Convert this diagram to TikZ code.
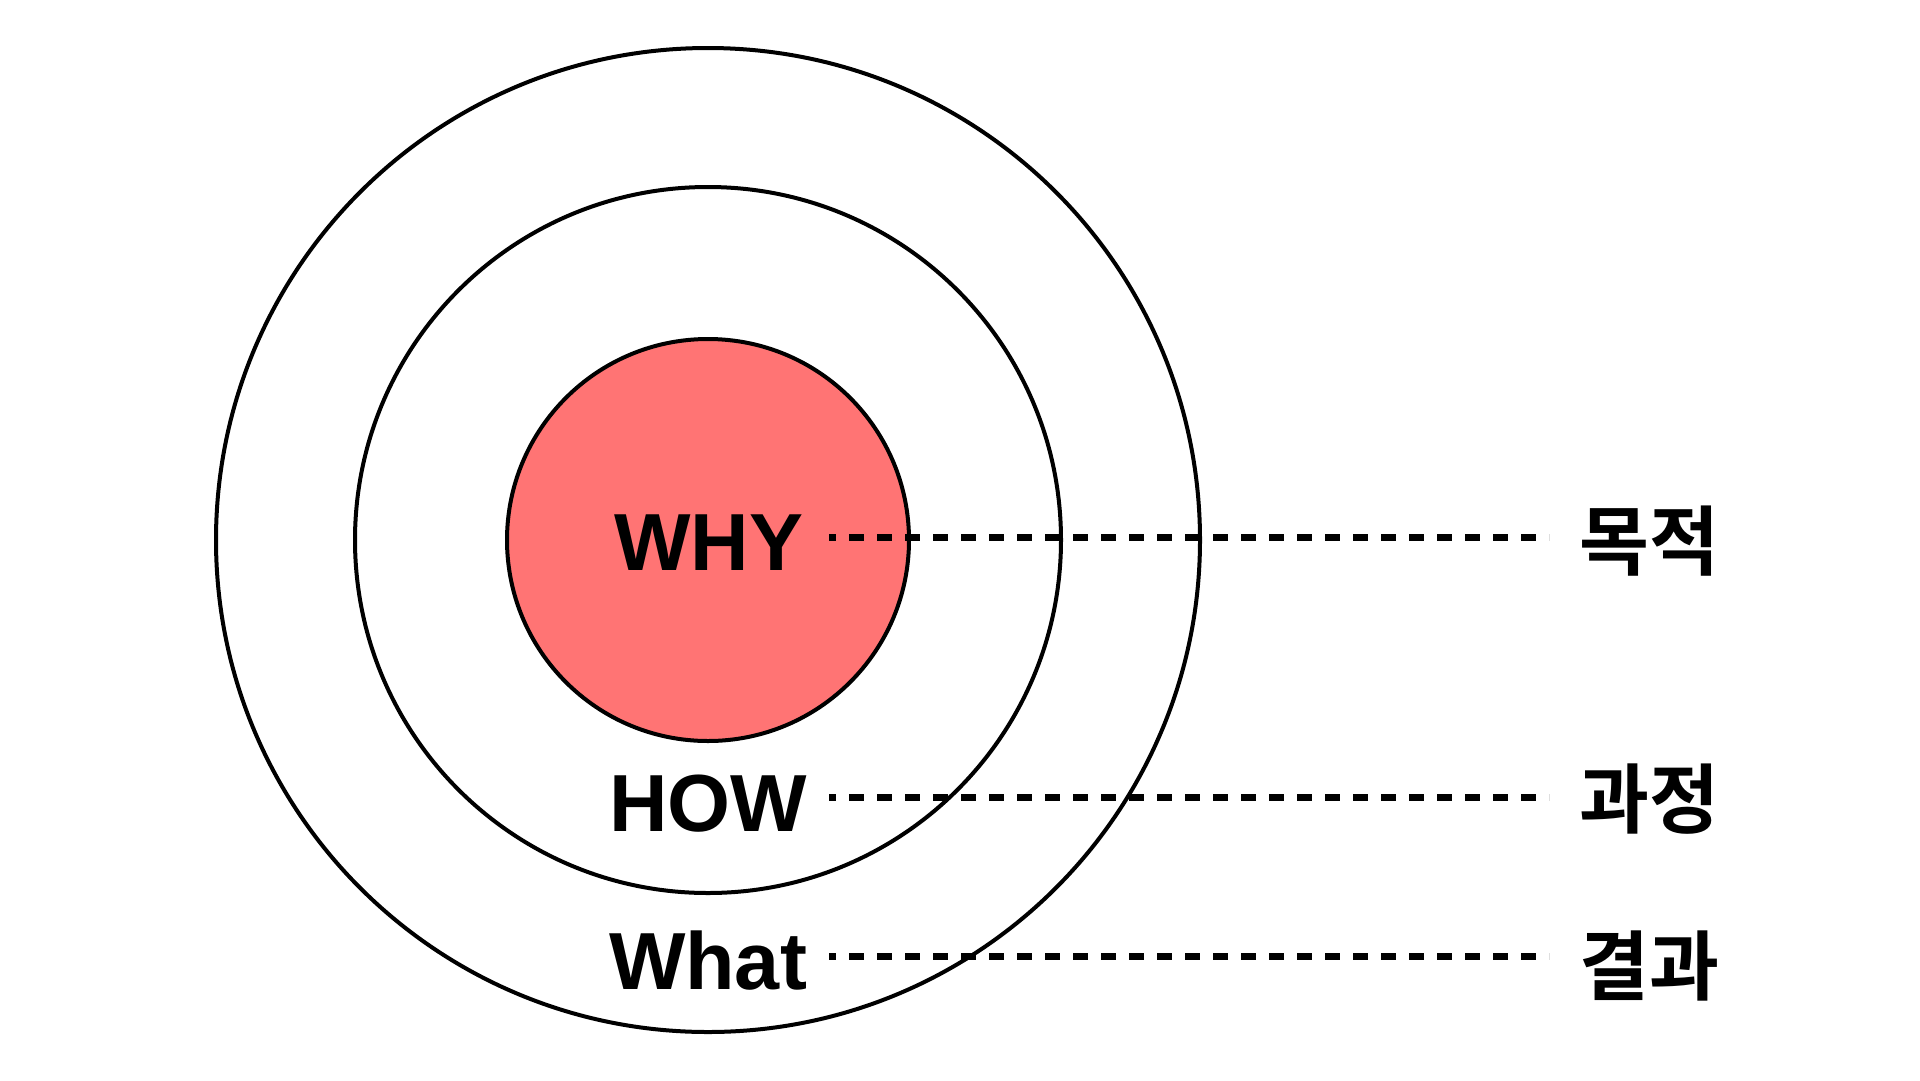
\documentclass[tikz,border=0pt]{standalone}
\usepackage{fontspec}
\setmainfont{Liberation Sans}
\newfontfamily\krfont{Noto Sans CJK KR}[BoldFont={* Bold}]
\usetikzlibrary{positioning}
\definecolor{whyred}{HTML}{FF7474}
\tikzset{
  ring/.style={circle, draw=black, line width=4pt, inner sep=0pt},
  lbl/.style={font=\fontsize{81}{90}\selectfont\bfseries, inner sep=0pt, anchor=base},
  kr/.style={font=\krfont\fontsize{76}{90}\selectfont\bfseries, inner sep=0pt, anchor=base west},
  leader/.style={line width=7pt, dash pattern=on 15pt off 13pt, dash phase=8pt}
}
\begin{document}
\begin{tikzpicture}[x=1pt,y=-1pt]
      \useasboundingbox (0,0) rectangle (1920,1080);
      % Circles
      \node[ring, minimum size=984pt] (what circle) at (708,540) {};
      \node[ring, minimum size=706pt] (how circle) at (708,540) {};
      \node[ring, fill=whyred, minimum size=402pt] (why circle) at (708,540) {};
      % Labels in the circles
      \node[lbl] (why) at (709,570) {WHY};
      \node[lbl] (how) at (708,831) {HOW};
      \node[lbl] (what) at (708,989) {What};
      % Korean labels
      \node[kr] (goal) at (1579,569) {목적};
      \node[kr] (process) at (1579,827) {과정};
      \node[kr] (result) at (1579,994) {결과};
      % Leader lines
      \coordinate (why start) at (829,537);
      \coordinate (how start) at (829,797);
      \coordinate (what start) at (829,956);
      \coordinate (why end) at (1549,537);
      \coordinate (how end) at (1549,797);
      \coordinate (what end) at (1549,956);
      \draw[leader] (why start) -- (why end);
      \draw[leader] (how start) -- (how end);
      \draw[leader] (what start) -- (what end);
\end{tikzpicture}
\end{document}
